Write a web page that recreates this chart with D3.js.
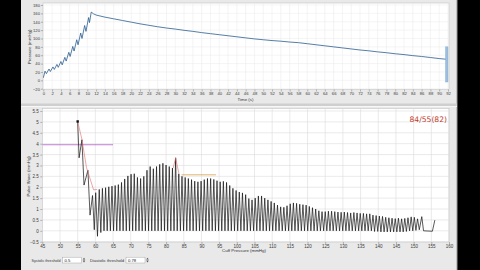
<!DOCTYPE html>
<html>
<head>
<meta charset="utf-8">
<script src="https://cdn.jsdelivr.net/npm/d3@7"></script>
<style>
  html, body { margin: 0; padding: 0; background: #000; }
  svg { display: block; font-family: "Liberation Sans", sans-serif; }
</style>
</head>
<body>
<svg id="chart" width="480" height="270"></svg>
<script>
// ---- data ----
const timeTicks = [0,2,4,6,8,10,12,14,16,18,20,22,24,26,28,30,32,34,36,38,40,42,44,46,48,50,52,54,56,58,60,62,64,66,68,70,72,74,76,78,80,82,84,86,88,90,92];
const pressureTicks = [-20,0,20,40,60,80,100,120,140,160,180];
const cuffTicks = [45,50,55,60,65,70,75,80,85,90,95,100,105,110,115,120,125,130,135,140,145,150,155,160];
const pulseTicks = [-0.5,0,0.5,1,1.5,2,2.5,3,3.5,4,4.5,5,5.5];

// cuff pressure over time [s, mmHg]
const pressureTrace = [
  [0,6],[0.4,22],[0.7,16],[1.3,27],[1.6,21],[2.2,32],[2.5,26],[3.1,38],[3.4,31],[4.0,45],[4.3,37],
  [4.9,55],[5.2,46],[5.8,67],[6.1,57],[6.7,81],[7.0,70],[7.6,97],[7.9,85],[8.5,113],[8.8,100],
  [9.4,131],[9.7,117],[10.3,150],[10.5,138],[10.9,163],
  [11.4,159],[12,156],[14,151],[16,147],[18,143],[20,139],[22,135],[24,131.5],[26,128],[28,125],
  [30,122.5],[32,119.5],[34,117],[36,114],[38,111.5],[40,109],[42,106.5],[44,104],[46,101.5],[48,99],
  [50,97],[52,95],[54,93.5],[56,91.5],[58,90],[60,87.5],[62,85],[64,82.5],[66,80],[68,77.5],[70,75],
  [72,72.5],[74,70.5],[76,68],[78,66],[80,63.5],[82,61.5],[84,59],[86,57],[88,54.5],[90,52],[92,50]
];
const cursorTime = 92;
const cursorSpan = [-4, 80];

// pulse wave vs cuff pressure [mmHg, mmHg]
const pulseTrace = [
  [55.0,5.02],[55.4,3.35],[56.2,4.18],[56.8,2.10],[57.9,2.78],[58.5,0.72],[59.2,1.62],[59.7,0.05],[60.1,1.75],[60.6,-0.25],[61.1,1.90],[61.55,-0.08],
  [62.0,1.95],[62.45,0],[62.9,1.98],[63.35,0],[63.8,2.02],[64.25,0],[64.7,2.05],[65.15,0],[65.6,2.08],[66.05,0],
  [66.5,2.12],[66.95,0],[67.4,2.22],[67.85,0],[68.3,2.38],[68.75,0],[69.2,2.52],[69.65,0],[70.1,2.60],[70.55,0],
  [71.0,2.62],[71.45,0],[71.9,2.45],[72.35,0],[72.8,2.40],[73.25,0],[73.7,2.50],[74.15,0],[74.6,2.78],[75.05,0],
  [75.5,2.95],[75.95,0],[76.4,2.85],[76.85,0],[77.3,2.95],[77.75,0],[78.2,3.05],[78.65,0],[79.1,3.10],[79.55,0],
  [80.0,3.02],[80.45,0],[80.9,2.95],[81.35,0],[81.8,2.88],[82.25,0],[82.7,3.35],[83.15,0],[83.6,2.62],[84.05,0],
  [84.5,2.50],[84.95,0],[85.4,2.45],[85.85,0],[86.3,2.40],[86.75,0],[87.2,2.35],[87.65,0],[88.1,2.28],[88.55,0],
  [89.0,2.25],[89.45,0],[89.9,2.28],[90.35,0],[90.8,2.35],[91.25,0],[91.7,2.40],[92.15,0],[92.6,2.40],[93.05,0],
  [93.5,2.36],[93.95,0],[94.4,2.30],[94.85,0],[95.3,2.25],[95.75,0],[96.2,2.27],[96.65,0],[97.1,2.22],[97.55,0],
  [98.0,2.08],[98.45,0],[98.9,1.95],[99.35,0],[99.8,1.85],[100.25,0],[100.7,1.78],[101.15,0],[101.6,1.74],[102.05,0],
  [102.5,1.66],[102.95,0],[103.4,1.48],[103.85,0],[104.3,1.42],[104.75,0],[105.2,1.50],[105.65,0],[106.1,1.60],[106.55,0],
  [107.0,1.60],[107.45,0],[107.9,1.50],[108.35,0],[108.8,1.42],[109.25,0],[109.7,1.35],[110.15,0],[110.6,1.28],[111.05,0],
  [111.5,1.18],[111.95,0],[112.4,1.10],[112.85,0],[113.3,1.08],[113.75,0],[114.2,1.15],[114.65,0],[115.1,1.24],[115.55,0],
  [116.0,1.28],[116.45,0],[116.9,1.26],[117.35,0],[117.8,1.22],[118.25,0],[118.7,1.20],[119.15,0],[119.6,1.18],[120.05,0],
  [120.5,1.12],[120.95,0],[121.4,1.06],[121.85,0],[122.3,1.00],[122.75,0],[123.2,0.92],[123.65,0],[124.1,0.88],[124.55,0],
  [125.0,0.88],[125.45,0],[125.9,0.90],[126.35,0],[126.8,0.90],[127.25,0],[127.7,0.88],[128.15,0],[128.6,0.86],[129.05,0],
  [129.5,0.85],[129.95,0],[130.4,0.86],[130.85,0],[131.3,0.84],[131.75,0],[132.2,0.82],[132.65,0],[133.1,0.84],[133.55,0],
  [134.0,0.82],[134.45,0],[134.9,0.80],[135.35,0],[135.8,0.80],[136.25,0],[136.7,0.78],[137.15,0],[137.6,0.78],[138.05,0],
  [138.5,0.72],[138.95,-0.03],[139.4,0.70],[139.85,-0.03],[140.3,0.68],[140.75,-0.05],[141.2,0.66],[141.65,-0.05],[142.1,0.62],[142.55,-0.05],
  [143.0,0.60],[143.45,-0.05],[143.9,0.58],[144.35,-0.05],[144.8,0.56],[145.25,-0.05],[145.7,0.58],[146.15,-0.05],[146.6,0.55],[147.05,-0.05],
  [147.5,0.57],[147.95,-0.03],[148.4,0.60],[148.85,0],[149.3,0.64],[149.75,0],[150.2,0.62],[150.65,0.02],[151.1,0.55],[151.6,0.05],
  [152.3,0.65],[152.8,0.0],[155.3,-0.02],[156.0,0.49]
];
const spikeMarker = [55.0, 5.02];
const envelopeStart = [[55.0,5.02],[56.2,4.2],[57.5,2.9],[58.3,2.5],[59.5,1.88],[60.5,1.9]];
const envelopePeak = [[82.0,2.88],[82.7,3.35],[83.6,2.65]];
const systolicLine = { from: 45, to: 65, level: 3.95 };
const diastolicLine = { from: 84.4, to: 94.1, level: 2.57 };
const resultText = "84/55(82)";
const systolicThreshold = "0.5";
const diastolicThreshold = "0.78";

// ---- layout ----
const svg = d3.select("#chart");
const win = { left: 21, right: 457 };

svg.append("rect").attr("x", win.left).attr("y", 0)
  .attr("width", win.right - win.left).attr("height", 270).attr("fill", "#e9e9e9");
svg.append("line").attr("x1", win.right).attr("x2", win.right).attr("y1", 0).attr("y2", 270)
  .attr("stroke", "#9a9a9a").attr("stroke-width", 1);
// panel separator
svg.append("rect").attr("x", win.left).attr("y", 103.5).attr("width", win.right - win.left).attr("height", 2.5).attr("fill", "#cfcfcf");
svg.append("rect").attr("x", win.left).attr("y", 106).attr("width", win.right - win.left).attr("height", 1).attr("fill", "#f7f7f7");

const xTop = d3.scaleLinear().domain([0, 92]).range([43.3, 448]);
const yTop = d3.scaleLinear().domain([-20, 180]).range([88.7, 5]);
const xBot = d3.scaleLinear().domain([45, 160]).range([42.3, 449]);
const yBot = d3.scaleLinear().domain([-0.5, 5.5]).range([241.7, 111]);

function plotFrame(x0, y0, x1, y1, id) {
  svg.append("rect").attr("x", x0).attr("y", y0).attr("width", x1 - x0).attr("height", y1 - y0)
    .attr("fill", "#fff").attr("stroke", "#c4c4c4").attr("stroke-width", 0.6);
  svg.append("clipPath").attr("id", id).append("rect")
    .attr("x", x0).attr("y", y0).attr("width", x1 - x0).attr("height", y1 - y0);
}

function styleAxis(g, size) {
  g.select(".domain").remove();
  g.selectAll(".tick line").attr("stroke", "#777").attr("stroke-width", 0.5);
  g.selectAll(".tick text").attr("fill", "#3a3a3a")
    .style("font-size", size + "px").style("font-family", "Liberation Sans, sans-serif");
}

// ---- top chart: pressure vs time ----
plotFrame(43, 3, 449, 89.5, "clipTop");

const topGrid = svg.append("g").attr("clip-path", "url(#clipTop)");
topGrid.selectAll(".vg").data(timeTicks).join("line")
  .attr("x1", d => xTop(d)).attr("x2", d => xTop(d)).attr("y1", 3).attr("y2", 89.5)
  .attr("stroke", "#e8e8e8").attr("stroke-width", 0.5);
topGrid.selectAll(".hg").data(pressureTicks).join("line")
  .attr("x1", 43).attr("x2", 449).attr("y1", d => yTop(d)).attr("y2", d => yTop(d))
  .attr("stroke", "#ebebeb").attr("stroke-width", 0.5);

svg.append("g").attr("transform", "translate(0,89.5)")
  .call(d3.axisBottom(xTop).tickValues(timeTicks).tickSize(2).tickPadding(1))
  .call(g => styleAxis(g, 4.2));
svg.append("g").attr("transform", "translate(43,0)")
  .call(d3.axisLeft(yTop).tickValues(pressureTicks).tickSize(2).tickPadding(1))
  .call(g => styleAxis(g, 4.2));

svg.append("text").attr("x", 245.5).attr("y", 101).attr("text-anchor", "middle")
  .attr("fill", "#333").style("font-size", "4.4px").text("Time (s)");
svg.append("text").attr("transform", "translate(31," + ((yTop(-20) + yTop(180)) / 2) + ") rotate(-90)")
  .attr("text-anchor", "middle").attr("fill", "#333").style("font-size", "4.4px").text("Pressure (mmHg)");

const topLine = d3.line().x(d => xTop(d[0])).y(d => yTop(d[1]));
svg.append("g").attr("clip-path", "url(#clipTop)").append("path")
  .datum(pressureTrace).attr("d", topLine)
  .attr("fill", "none").attr("stroke", "#2a5d8f").attr("stroke-width", 0.8);

svg.append("rect")
  .attr("x", xTop(cursorTime) - 2.5).attr("width", 2.5)
  .attr("y", yTop(cursorSpan[1])).attr("height", yTop(cursorSpan[0]) - yTop(cursorSpan[1]))
  .attr("fill", "#9cbfe0").attr("stroke", "#84a9ce").attr("stroke-width", 0.4);

// ---- bottom chart: pulse wave vs cuff pressure ----
plotFrame(42.3, 108.5, 449, 242, "clipBot");

const botGrid = svg.append("g").attr("clip-path", "url(#clipBot)");
botGrid.selectAll(".vg").data(cuffTicks).join("line")
  .attr("x1", d => xBot(d)).attr("x2", d => xBot(d)).attr("y1", 108.5).attr("y2", 242)
  .attr("stroke", "#dcdcdc").attr("stroke-width", 0.6);
botGrid.selectAll(".hg").data(pulseTicks).join("line")
  .attr("x1", 42.3).attr("x2", 449).attr("y1", d => yBot(d)).attr("y2", d => yBot(d))
  .attr("stroke", "#dcdcdc").attr("stroke-width", 0.6);

svg.append("g").attr("transform", "translate(0,242)")
  .call(d3.axisBottom(xBot).tickValues(cuffTicks).tickSize(2).tickPadding(1))
  .call(g => styleAxis(g, 4.5));
svg.append("g").attr("transform", "translate(42.3,0)")
  .call(d3.axisLeft(yBot).tickValues(pulseTicks).tickSize(2).tickPadding(1.5).tickFormat(d3.format("~g")))
  .call(g => styleAxis(g, 4.5));

svg.append("text").attr("x", 244).attr("y", 252.3).attr("text-anchor", "middle")
  .attr("fill", "#333").style("font-size", "4.4px").text("Cuff Pressure (mmHg)");
svg.append("text").attr("transform", "translate(29.5," + ((yBot(-0.5) + yBot(5.5)) / 2) + ") rotate(-90)")
  .attr("text-anchor", "middle").attr("fill", "#333").style("font-size", "4.4px").text("Pulse Wave (mmHg)");

const botLine = d3.line().x(d => xBot(d[0])).y(d => yBot(d[1]));
const botPlot = svg.append("g").attr("clip-path", "url(#clipBot)");

botPlot.append("line")
  .attr("x1", xBot(systolicLine.from)).attr("x2", xBot(systolicLine.to))
  .attr("y1", yBot(systolicLine.level)).attr("y2", yBot(systolicLine.level))
  .attr("stroke", "#b45ac6").attr("stroke-width", 0.8);

botPlot.append("path").datum(pulseTrace).attr("d", botLine)
  .attr("fill", "none").attr("stroke", "#111").attr("stroke-width", 0.7).attr("stroke-linejoin", "miter");

botPlot.append("line")
  .attr("x1", xBot(diastolicLine.from)).attr("x2", xBot(diastolicLine.to))
  .attr("y1", yBot(diastolicLine.level)).attr("y2", yBot(diastolicLine.level))
  .attr("stroke", "#d9a24a").attr("stroke-width", 0.8);

botPlot.selectAll(".env").data([envelopeStart, envelopePeak]).join("path")
  .attr("d", botLine).attr("fill", "none").attr("stroke", "#e06a6a").attr("stroke-width", 0.6);

botPlot.append("rect")
  .attr("x", xBot(spikeMarker[0]) - 1.2).attr("y", yBot(spikeMarker[1]) - 1.2)
  .attr("width", 2.4).attr("height", 2.4).attr("fill", "#111");

svg.append("text").attr("x", 447).attr("y", 122).attr("text-anchor", "end")
  .attr("fill", "#c0392b").style("font-size", "7.6px").style("font-family", "DejaVu Sans, sans-serif")
  .text(resultText);

// ---- threshold controls ----
const controls = [
  { label: "Systolic threshold", value: systolicThreshold, x: 31.5, w: 29, box: 62.5 },
  { label: "Diastolic threshold", value: diastolicThreshold, x: 90, w: 34, box: 126 }
];
const ctrl = svg.append("g").selectAll("g").data(controls).join("g");
ctrl.append("text").attr("x", d => d.x).attr("y", 261.5)
  .attr("fill", "#333").style("font-size", "4.2px")
  .attr("textLength", d => d.w).attr("lengthAdjust", "spacingAndGlyphs")
  .text(d => d.label);
ctrl.append("rect").attr("x", d => d.box).attr("y", 257.2).attr("width", 19).attr("height", 5.8)
  .attr("fill", "#fff").attr("stroke", "#a8a8a8").attr("stroke-width", 0.5);
ctrl.append("text").attr("x", d => d.box + 2).attr("y", 261.5)
  .attr("fill", "#222").style("font-size", "4.2px").text(d => d.value);
ctrl.append("path")
  .attr("d", d => {
    const cx = d.box + 21.5;
    return `M${cx - 1.3},259.6L${cx},257.8L${cx + 1.3},259.6Z M${cx - 1.3},260.6L${cx},262.4L${cx + 1.3},260.6Z`;
  })
  .attr("fill", "#555");
</script>
</body>
</html>
